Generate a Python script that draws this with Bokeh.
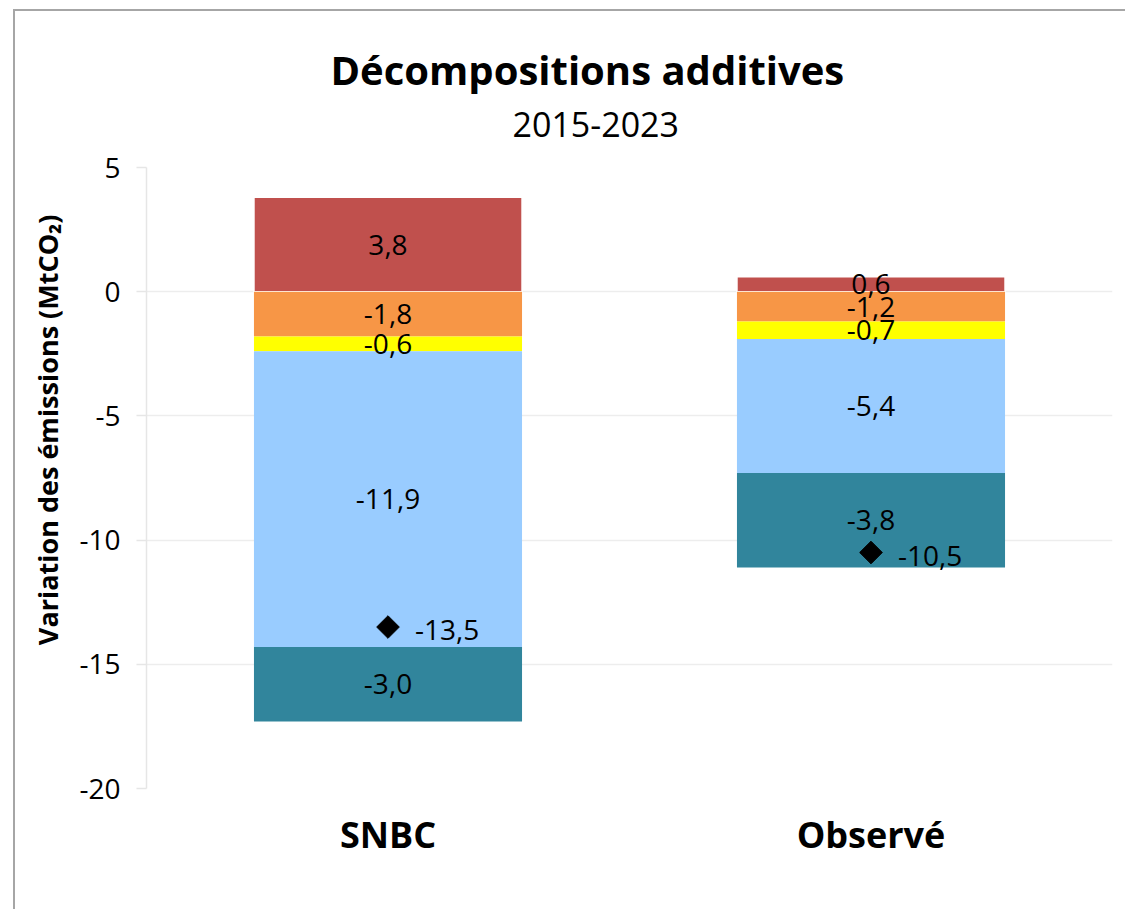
import math
from bokeh.plotting import figure
from bokeh.models import ColumnDataSource, FactorRange, Range1d, FixedTicker, Title
from bokeh.core.properties import value
from bokeh.embed import file_html
from bokeh.resources import INLINE

# ---------------- data ----------------
categories = ["SNBC", "Observé"]
effet_positif = [3.8, 0.6]          # rouge
effet_orange = [-1.8, -1.2]
effet_jaune = [-0.6, -0.7]
effet_bleu_clair = [-11.9, -5.4]
effet_bleu_fonce = [-3.0, -3.8]
totaux = [-13.5, -10.5]
y_ticks = [-20, -15, -10, -5, 0, 5]

title_text = "Décompositions additives"
subtitle_text = "2015-2023"
y_label_text = "Variation des émissions (MtCO\u2082)"

# ---------------- styles ----------------
FONT = "Open Sans"
neg_keys = ["orange", "jaune", "bleu_clair", "bleu_fonce"]
neg_colors = ["#F79646", "#FFFF00", "#99CCFF", "#31859C"]
pos_color = "#C0504D"
BAR_W = 0.555

def fmt(v):
    return f"{v:.1f}".replace(".", ",")

src = ColumnDataSource(dict(
    cat=categories,
    pos=effet_positif,
    orange=effet_orange,
    jaune=effet_jaune,
    bleu_clair=effet_bleu_clair,
    bleu_fonce=effet_bleu_fonce,
))

p = figure(
    x_range=FactorRange(*categories, range_padding=0),
    y_range=Range1d(-20, 5),
    width=1112, height=900,
    output_backend="svg", toolbar_location=None,
    min_border_left=129, min_border_right=15,
    min_border_top=156, min_border_bottom=123,
)
p.styles = {"border-top": "2px solid #a6a6a6", "border-left": "2px solid #a6a6a6",
            "margin-left": "13px", "margin-top": "9px"}
p.outline_line_color = None
p.background_fill_color = "white"
p.border_fill_color = "white"

# grid
p.xgrid.grid_line_color = None
p.ygrid.grid_line_color = "#ededed"
p.ygrid.grid_line_width = 1.5
p.ygrid.ticker = FixedTicker(ticks=y_ticks)

# y axis
p.yaxis.ticker = FixedTicker(ticks=y_ticks)
p.yaxis.major_label_overrides = {t: str(t) for t in y_ticks}
p.yaxis.axis_line_color = "#e6e6e6"
p.yaxis.axis_line_width = 1.5
p.yaxis.major_tick_line_color = "#e6e6e6"
p.yaxis.major_tick_line_width = 1.5
p.yaxis.major_tick_out = 10
p.yaxis.major_tick_in = 0
p.yaxis.minor_tick_line_color = None
p.yaxis.major_label_text_font = FONT
p.yaxis.major_label_text_font_size = "28px"
p.yaxis.major_label_text_color = "black"
p.yaxis.major_label_standoff = 16

# x axis
p.xaxis.axis_line_color = None
p.xaxis.major_tick_line_color = None
p.xaxis.minor_tick_line_color = None
p.xaxis.major_label_text_font = FONT
p.xaxis.major_label_text_font_style = "bold"
p.xaxis.major_label_text_font_size = "36px"
p.xaxis.major_label_text_color = "black"
p.xaxis.major_label_standoff = 15

# bars
p.vbar(x="cat", top="pos", bottom=0, width=BAR_W, source=src,
       fill_color=pos_color, line_color="white", line_width=1.5)
p.vbar_stack(neg_keys, x="cat", width=BAR_W, color=neg_colors, line_color=None, source=src)

# segment labels
lx, ly, lt = [], [], []
for i, c in enumerate(categories):
    lx.append(c); ly.append(effet_positif[i] / 2); lt.append(fmt(effet_positif[i]))
    base = 0.0
    for arr in (effet_orange, effet_jaune, effet_bleu_clair, effet_bleu_fonce):
        v = arr[i]
        lx.append(c); ly.append(base + v / 2); lt.append(fmt(v))
        base += v
lab_src = ColumnDataSource(dict(x=lx, y=ly, t=lt))
p.text(x="x", y="y", text="t", source=lab_src, text_align="center", text_baseline="middle",
       text_font=value(FONT), text_font_size=value("28px"), text_color="black")

# totals
tot_src = ColumnDataSource(dict(x=categories, y=totaux, t=[fmt(v) for v in totaux]))
p.scatter(x="x", y="y", source=tot_src, marker="square", size=16, angle=math.pi / 4,
          fill_color="black", line_color="black")
p.text(x="x", y="y", text="t", source=tot_src, text_align="left", text_baseline="middle",
       x_offset=27, y_offset=3,
       text_font=value(FONT), text_font_size=value("28px"), text_color="black")

# titles (subtitle first: closest to the frame)
p.add_layout(Title(text=subtitle_text, align="left", offset=366,
                   text_font=FONT, text_font_size="34px", text_font_style="normal",
                   text_color="black", standoff=62), "above")
p.add_layout(Title(text=title_text, align="left", offset=184,
                   text_font=FONT, text_font_size="40px", text_font_style="bold",
                   text_color="black", standoff=-36), "above")
# y label as a side title
p.add_layout(Title(text=y_label_text, align="right", offset=47,
                   text_font=FONT, text_font_size="27px", text_font_style="bold",
                   text_color="black", standoff=22), "left")

open("out.html", "w").write(file_html(p, INLINE))
